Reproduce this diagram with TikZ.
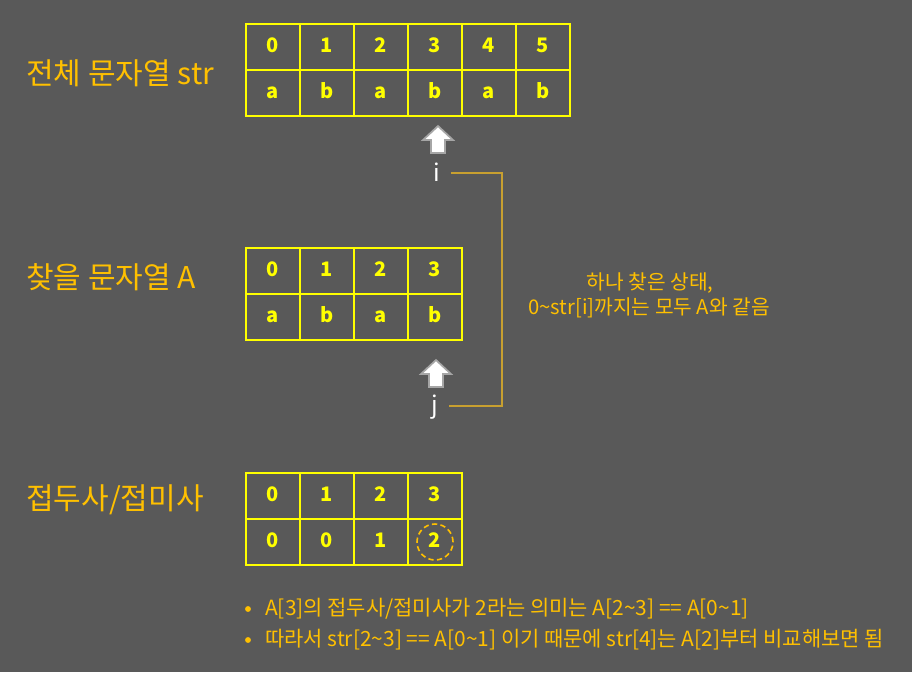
\documentclass[tikz,border=0pt]{standalone}
\usepackage{fontspec}
\setmainfont{Noto Sans CJK KR}
\definecolor{bg}{HTML}{595959}
\definecolor{ylw}{HTML}{FFFF00}
\definecolor{gold}{HTML}{FFC000}
\definecolor{linec}{HTML}{C8A030}
\tikzset{
  cell/.style={draw=ylw, line width=1.2pt, minimum width=40.5pt, minimum height=34.5pt, inner sep=0pt, text=ylw, text height=1.6ex, text depth=0pt, font=\bfseries\fontsize{15}{17}\selectfont},
  title/.style={anchor=west, text=gold, inner sep=0pt, font=\fontsize{22.5}{26}\selectfont},
  note/.style={text=gold, inner sep=0pt, font=\fontsize{15.2}{18}\selectfont},
  bnote/.style={text=gold, inner sep=0pt, anchor=west, font=\fontsize{15.7}{18}\selectfont},
  ptr/.style={text=white, inner sep=0pt, font=\fontsize{18}{20}\selectfont},
  uparrow/.style={fill=white, draw=gray!70, line width=1.3pt, line join=miter}
}
\begin{document}
\begin{tikzpicture}[x=0.75pt,y=-0.75pt]
\fill[bg] (0,0) rectangle (912,672);
\useasboundingbox (0,0) rectangle (912,672);
% titles
\node[title] (t1) at (26,73) {전체 문자열 str};
\node[title] (t2) at (26,277) {찾을 문자열 A};
\node[title] (t3) at (26,500) {접두사/접미사};
% table str
\foreach \v [count=\k] in {0,1,2,3,4,5}
  \node[cell] (sa\k) at ({246+27+54*(\k-1)},47) {\v};
\foreach \v [count=\k] in {a,b,a,b,a,b}
  \node[cell] (sb\k) at ({246+27+54*(\k-1)},93) {\v};
% table A
\foreach \v [count=\k] in {0,1,2,3}
  \node[cell] (aa\k) at ({246+27+54*(\k-1)},271) {\v};
\foreach \v [count=\k] in {a,b,a,b}
  \node[cell] (ab\k) at ({246+27+54*(\k-1)},317) {\v};
% table pi
\foreach \v [count=\k] in {0,1,2,3}
  \node[cell] (pa\k) at ({246+27+54*(\k-1)},496) {\v};
\foreach \v [count=\k] in {0,0,1,2}
  \node[cell] (pb\k) at ({246+27+54*(\k-1)},542) {\v};
\draw[gold, line width=1.2pt, dash pattern=on 4pt off 2.5pt] (pb4.center) circle (13.5pt);
% arrows
\draw[uparrow] (438,126) -- (453,140) -- (445,140) -- (445,153) -- (431,153) -- (431,140) -- (423,140) -- cycle;
\draw[uparrow] (436,360) -- (451,374) -- (443,374) -- (443,387) -- (429,387) -- (429,374) -- (421,374) -- cycle;
\node[ptr] (i) at (437,172) {i};
\node[ptr] (j) at (435,407) {j};
\coordinate (c1) at (502,173);
\coordinate (c2) at (502,406);
\draw[linec, line width=1pt] ([xshift=8pt]i.east |- c1) -- (c1) -- (c2) -- ([xshift=8pt]j.east |- c2);
% note
\node[note] (n1) at (650,283) {하나 찾은 상태,};
\node[note] (n2) at (649,308) {0\textasciitilde str[i]까지는 모두 A와 같음};
% bullets
\node[bnote] (b1) at (265,609) {A[3]의 접두사/접미사가 2라는 의미는 A[2\textasciitilde 3] == A[0\textasciitilde 1]};
\node[bnote] (b2) at (265,640) {따라서 str[2\textasciitilde 3] == A[0\textasciitilde 1] 이기 때문에 str[4]는 A[2]부터 비교해보면 됨};
\fill[gold] (248,609) circle (2.2pt);
\fill[gold] (248,640) circle (2.2pt);
\end{tikzpicture}
\end{document}
